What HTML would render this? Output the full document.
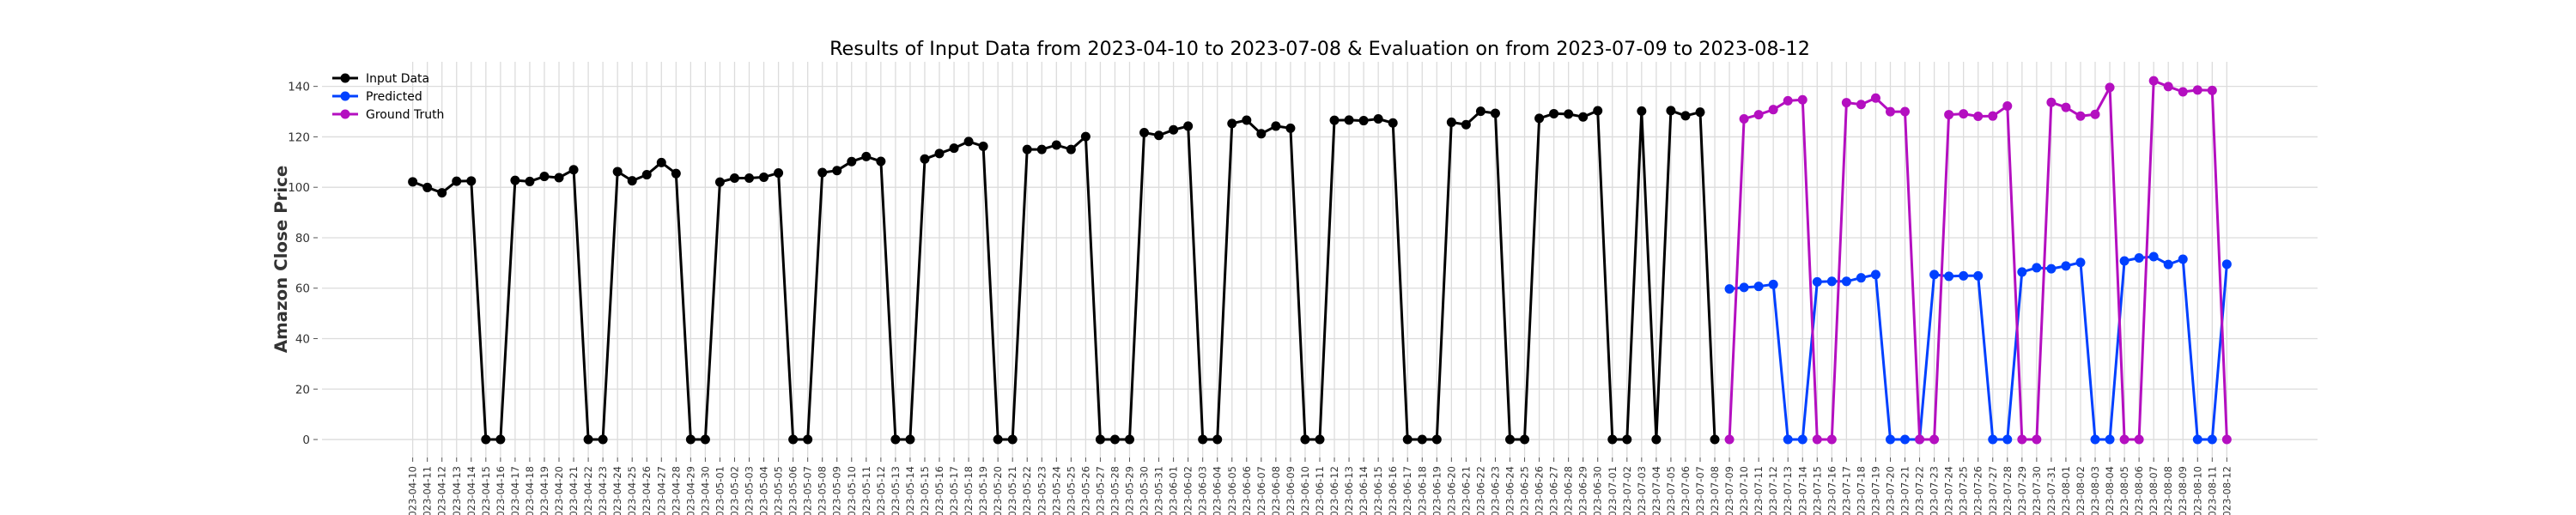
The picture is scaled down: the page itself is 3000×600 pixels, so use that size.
<!DOCTYPE html>
<html><head><meta charset="utf-8"><style>
html,body{margin:0;padding:0;background:#fff;}
svg{display:block;font-family:"DejaVu Sans","Liberation Sans",sans-serif;}
</style></head><body>
<svg id="chart" width="3000" height="600" viewBox="0 0 3000 600" xmlns="http://www.w3.org/2000/svg">
<text x="1537" y="64" font-size="22.3" text-anchor="middle" fill="#000">Results of Input Data from 2023-04-10 to 2023-07-08 &amp; Evaluation on from 2023-07-09 to 2023-08-12</text>
<g id="grid"></g>
<g id="yaxis"></g>
<g id="xaxis"></g>
<text transform="translate(334,302) rotate(-90)" font-size="19.8" font-weight="bold" text-anchor="middle" fill="#333">Amazon Close Price</text>
<g id="series"></g>
<g id="legend"></g>
</svg>
<script>
const startDate = "2023-04-10";
const numDays = 125;
const yTicks = [0,20,40,60,80,100,120,140];
const inputValues = [102.17,99.92,97.83,102.40,102.51,0,0,102.74,102.30,104.30,103.81,106.96,0,0,106.21,102.57,104.98,109.82,105.45,0,0,102.05,103.63,103.65,104.00,105.66,0,0,105.83,106.62,110.19,112.18,110.26,0,0,111.20,113.40,115.50,118.15,116.25,0,0,115.01,114.99,116.75,115.00,120.11,0,0,0,121.66,120.58,122.77,124.25,0,0,125.30,126.61,121.23,124.25,123.43,0,0,126.57,126.66,126.42,127.11,125.49,0,0,0,125.78,124.83,130.15,129.33,0,0,127.33,129.18,129.04,127.90,130.36,0,0,130.22,0,130.38,128.36,129.78,0];
const predictedValues = [59.7,60.3,60.7,61.5,0,0,62.5,62.7,62.7,64.1,65.4,0,0,0,65.4,64.7,64.9,64.9,0,0,66.4,68.1,67.7,68.8,70.2,0,0,70.8,72.0,72.5,69.4,71.5,0,0,69.5];
const truthValues = [0,127.13,128.78,130.80,134.30,134.68,0,0,133.56,132.83,135.36,129.96,130.00,0,0,128.80,129.13,128.15,128.25,132.21,0,0,133.68,131.69,128.21,128.91,139.57,0,0,142.22,139.94,137.85,138.56,138.41,0];
const evalStartIndex = 90;
const legendLabels = ["Input Data","Predicted","Ground Truth"];

const NS="http://www.w3.org/2000/svg";
const L=375,R=2699,T=72,B=533,yMin=-7.13,yMax=149.75;
const xS=i=>L+(R-L)*(i+6.2)/(124+12.4);
const yS=v=>B-(v-yMin)/(yMax-yMin)*(B-T);
function mk(tag,attrs,parent){const e=document.createElementNS(NS,tag);for(const k in attrs)e.setAttribute(k,attrs[k]);parent.appendChild(e);return e;}
const grid=document.getElementById('grid'),ya=document.getElementById('yaxis'),xa=document.getElementById('xaxis'),ser=document.getElementById('series'),leg=document.getElementById('legend');
const d0=new Date(startDate+"T00:00:00Z");
function dstr(i){const d=new Date(d0.getTime()+i*86400000);return d.toISOString().slice(0,10);}
for(let i=0;i<numDays;i++){
  const x=xS(i);
  const g=mk('line',{x1:x,x2:x,y1:T,y2:B,stroke:'#dcdcdc','stroke-width':1.3},grid);
  
  
  const t=mk('line',{x1:x,x2:x,y1:B,y2:B+5,stroke:'#555','stroke-width':1},xa);
  
  
  const lb=mk('text',{transform:`translate(${x+4},${B+10}) rotate(-90)`,'font-size':11.5,'text-anchor':'end',fill:'#333'},xa);
  lb.textContent=dstr(i);
  
  
}
yTicks.forEach(v=>{
  const y=yS(v);
  const g=mk('line',{x1:L,x2:R,y1:y,y2:y,stroke:'#dcdcdc','stroke-width':1.3},grid);
  
  
  const t=mk('line',{x1:365,x2:370,y1:y,y2:y,stroke:'#555','stroke-width':1},ya);
  
  
  const lb=mk('text',{x:361,y:y+5,'font-size':13.5,'text-anchor':'end',fill:'#333'},ya);
  lb.textContent=v;
  
  
});
function drawSeries(vals,off,color,name){
  const g=mk('g',{},ser);
  
  
  const pts=vals.map((v,i)=>xS(i+off).toFixed(1)+','+yS(v).toFixed(1)).join(' ');
  const pl=mk('polyline',{points:pts,fill:'none',stroke:color,'stroke-width':3,'stroke-linejoin':'round'},g);
  
  
  vals.forEach((v,i)=>{
    const c=mk('circle',{cx:xS(i+off),cy:yS(v),r:5.5,fill:color},g);
    
    
  });
}
const colors=['#000000','#0040ff','#b40fc0'];
drawSeries(inputValues,0,colors[0],'input-data-series');
drawSeries(predictedValues,evalStartIndex,colors[1],'predicted-series');
drawSeries(truthValues,evalStartIndex,colors[2],'ground-truth-series');
legendLabels.forEach((lab,k)=>{
  const y=91+k*21;
  const g=mk('g',{},leg);
  
  
  mk('line',{x1:387,x2:417,y1:y,y2:y,stroke:colors[k],'stroke-width':3},g);
  mk('circle',{cx:402,cy:y,r:5.5,fill:colors[k]},g);
  const t=mk('text',{x:426,y:y+5,'font-size':14,fill:'#000'},g);
  t.textContent=lab;
});
</script>
</body></html>
